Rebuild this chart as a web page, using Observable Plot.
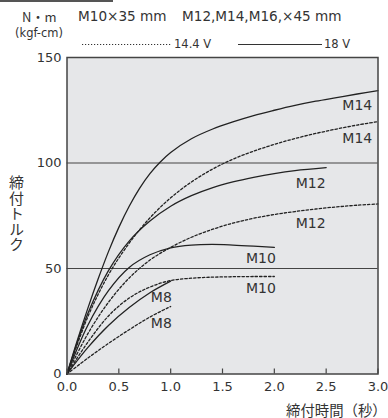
<!DOCTYPE html>
<html><head><meta charset="utf-8">
<script src="https://cdn.jsdelivr.net/npm/d3@7"></script>
<script src="https://cdn.jsdelivr.net/npm/@observablehq/plot@0.6"></script>
<style>
body{margin:0;background:#fff;}
#wrap{position:relative;width:388px;height:418px;overflow:hidden;font-family:"DejaVu Sans",sans-serif;color:#333;}
.abs{position:absolute;white-space:nowrap;line-height:1;}
#chart{position:absolute;left:0;top:0;}
</style></head><body>
<div id="wrap">
<div id="chart"></div>
<div class="abs" style="left:0;top:0;width:113px;height:2px;background:#555"></div>
<div class="abs" style="left:22px;top:10px;font-size:13px;font-family:'Noto Sans CJK JP';">N・m</div>
<div class="abs" style="left:78px;top:10px;font-size:13.6px;">M10×35 mm</div>
<div class="abs" style="left:182px;top:10px;font-size:13.6px;">M12,M14,M16,×45 mm</div>
<div class="abs" style="left:15px;top:28px;font-size:11.5px;">(kgf-cm)</div>
<svg class="abs" style="left:0;top:0" width="388" height="60">
  <line x1="82" x2="172" y1="44.5" y2="44.5" stroke="#333" stroke-width="1" stroke-dasharray="1.2,1.8"/>
  <line x1="238" x2="322" y1="44.5" y2="44.5" stroke="#333" stroke-width="1.2"/>
</svg>
<div class="abs" style="left:174px;top:38.5px;font-size:11.5px;">14.4 V</div>
<div class="abs" style="left:324px;top:38.5px;font-size:11.5px;">18 V</div>
<div class="abs" style="left:9px;top:175px;font-size:15px;writing-mode:vertical-rl;font-family:'Noto Sans CJK JP';letter-spacing:0.5px;">締付トルク</div>
<div class="abs" style="left:286px;top:402.5px;font-size:14.4px;font-family:'Noto Sans CJK JP';">締付時間（秒）</div>
</div>
<script>
// x ticks / y ticks
const xTicks = [0, 0.5, 1.0, 1.5, 2.0, 2.5, 3.0];
const yTicks = [0, 50, 100, 150];
const gridY = [50, 100];

// M14, 18 V (solid)
const tM14_18 = [0,0.1,0.2,0.3,0.4,0.5,0.6,0.7,0.8,0.9,1.0,1.2,1.4,1.6,1.8,2.0,2.2,2.4,2.6,2.8,3.0];
const vM14_18 = [0,16,31,45,58,69.5,79.5,88,95,100.5,105,111.5,116,119.5,122.5,125,127.3,129.3,131,132.7,134.3];
// M14, 14.4 V (dotted)
const tM14_144 = [0,0.2,0.4,0.6,0.8,1.0,1.2,1.4,1.6,1.8,2.0,2.2,2.4,2.6,2.8,3.0];
const vM14_144 = [0,27,47,62,74,83.5,91,97,101.8,105.6,108.8,111.6,114,116.1,118,119.6];
// M12, 18 V (solid)
const tM12_18 = [0,0.2,0.4,0.6,0.8,1.0,1.2,1.4,1.6,1.8,2.0,2.2,2.5];
const vM12_18 = [0,28.5,49,63,72.5,79.5,84.5,88.2,91,93.2,95,96.4,97.8];
// M12, 14.4 V (dotted)
const tM12_144 = [0,0.2,0.4,0.6,0.8,1.0,1.2,1.4,1.6,1.8,2.0,2.2,2.4,2.6,2.8,3.0];
const vM12_144 = [0,19,34,45.5,54,60,64.8,68.5,71.5,73.8,75.6,77,78.2,79.2,80,80.6];
// M10, 18 V (solid)
const tM10_18 = [0,0.2,0.4,0.6,0.8,1.0,1.2,1.4,1.6,1.8,2.0];
const vM10_18 = [0,23,39.5,50.5,56.5,59.8,61.1,61.4,61.1,60.6,60];
// M10, 14.4 V (dotted)
const tM10_144 = [0,0.2,0.4,0.6,0.8,1.0,1.2,1.4,1.6,1.8,2.0];
const vM10_144 = [0,15,27.5,36,41.2,44.3,45.4,45.9,46.1,46.2,46.2];
// M8, 18 V (solid)
const tM8_18 = [0,0.2,0.4,0.6,0.8,1.0];
const vM8_18 = [0,12.5,23,31.5,38.5,44];
// M8, 14.4 V (dotted)
const tM8_144 = [0,0.2,0.4,0.6,0.8,1.0];
const vM8_144 = [0,7.5,14.5,21,27,32];

// curve labels
const labelText = ["M14","M14","M12","M12","M10","M10","M8","M8"];
const labelT = [2.80,2.80,2.35,2.35,1.87,1.87,0.91,0.91];
const labelV = [127.3,111.6,90.4,71.2,54.6,40.4,36.1,23.8];

const series = [
  [tM14_18, vM14_18, false],
  [tM14_144, vM14_144, true],
  [tM12_18, vM12_18, false],
  [tM12_144, vM12_144, true],
  [tM10_18, vM10_18, false],
  [tM10_144, vM10_144, true],
  [tM8_18, vM8_18, false],
  [tM8_144, vM8_144, true]
];

const W = 388, H = 418, mT = 57, mB = 44.5, mL = 66.5, mR = 10.5;
const innerH = H - mT - mB;

const lineMarks = series.map(([ts, vs, dotted]) =>
  Plot.line(ts.map((t, i) => ({t, v: vs[i]})), {
    x: "t", y: "v", curve: "catmull-rom",
    stroke: "#222", strokeWidth: 1.3,
    strokeDasharray: dotted ? "2.4,2" : null
  })
);

const labels = labelText.map((s, i) => ({s, t: labelT[i], v: labelV[i]}));

const chart = Plot.plot({
  width: W, height: H,
  marginTop: mT, marginBottom: mB, marginLeft: mL, marginRight: mR,
  x: {domain: [0, 3], ticks: xTicks, tickFormat: d => d.toFixed(1)},
  y: {domain: [0, 150], ticks: yTicks},
  style: {fontFamily: "DejaVu Sans", fontSize: "13px", color: "#333", background: "transparent", overflow: "visible"},
  marks: [
    Plot.frame({fill: "#e6e7e9"}),
    Plot.ruleY(gridY, {stroke: "#444", strokeWidth: 1.2}),
    Plot.tickX(xTicks, {x: d => d, insetTop: innerH - 5, stroke: "#444", strokeWidth: 1.2}),
    Plot.axisX({ticks: xTicks, tickSize: 0, tickPadding: 8, label: null, tickFormat: d => d.toFixed(1)}),
    Plot.axisY({ticks: yTicks, tickSize: 0, tickPadding: 5.5, label: null}),
    ...lineMarks,
    Plot.text(labels, {x: "t", y: "v", text: "s", fontSize: 14, fill: "#333"}),
    Plot.frame({stroke: "#444", strokeWidth: 1.5})
  ]
});
document.getElementById("chart").appendChild(chart);
</script>
</body></html>
